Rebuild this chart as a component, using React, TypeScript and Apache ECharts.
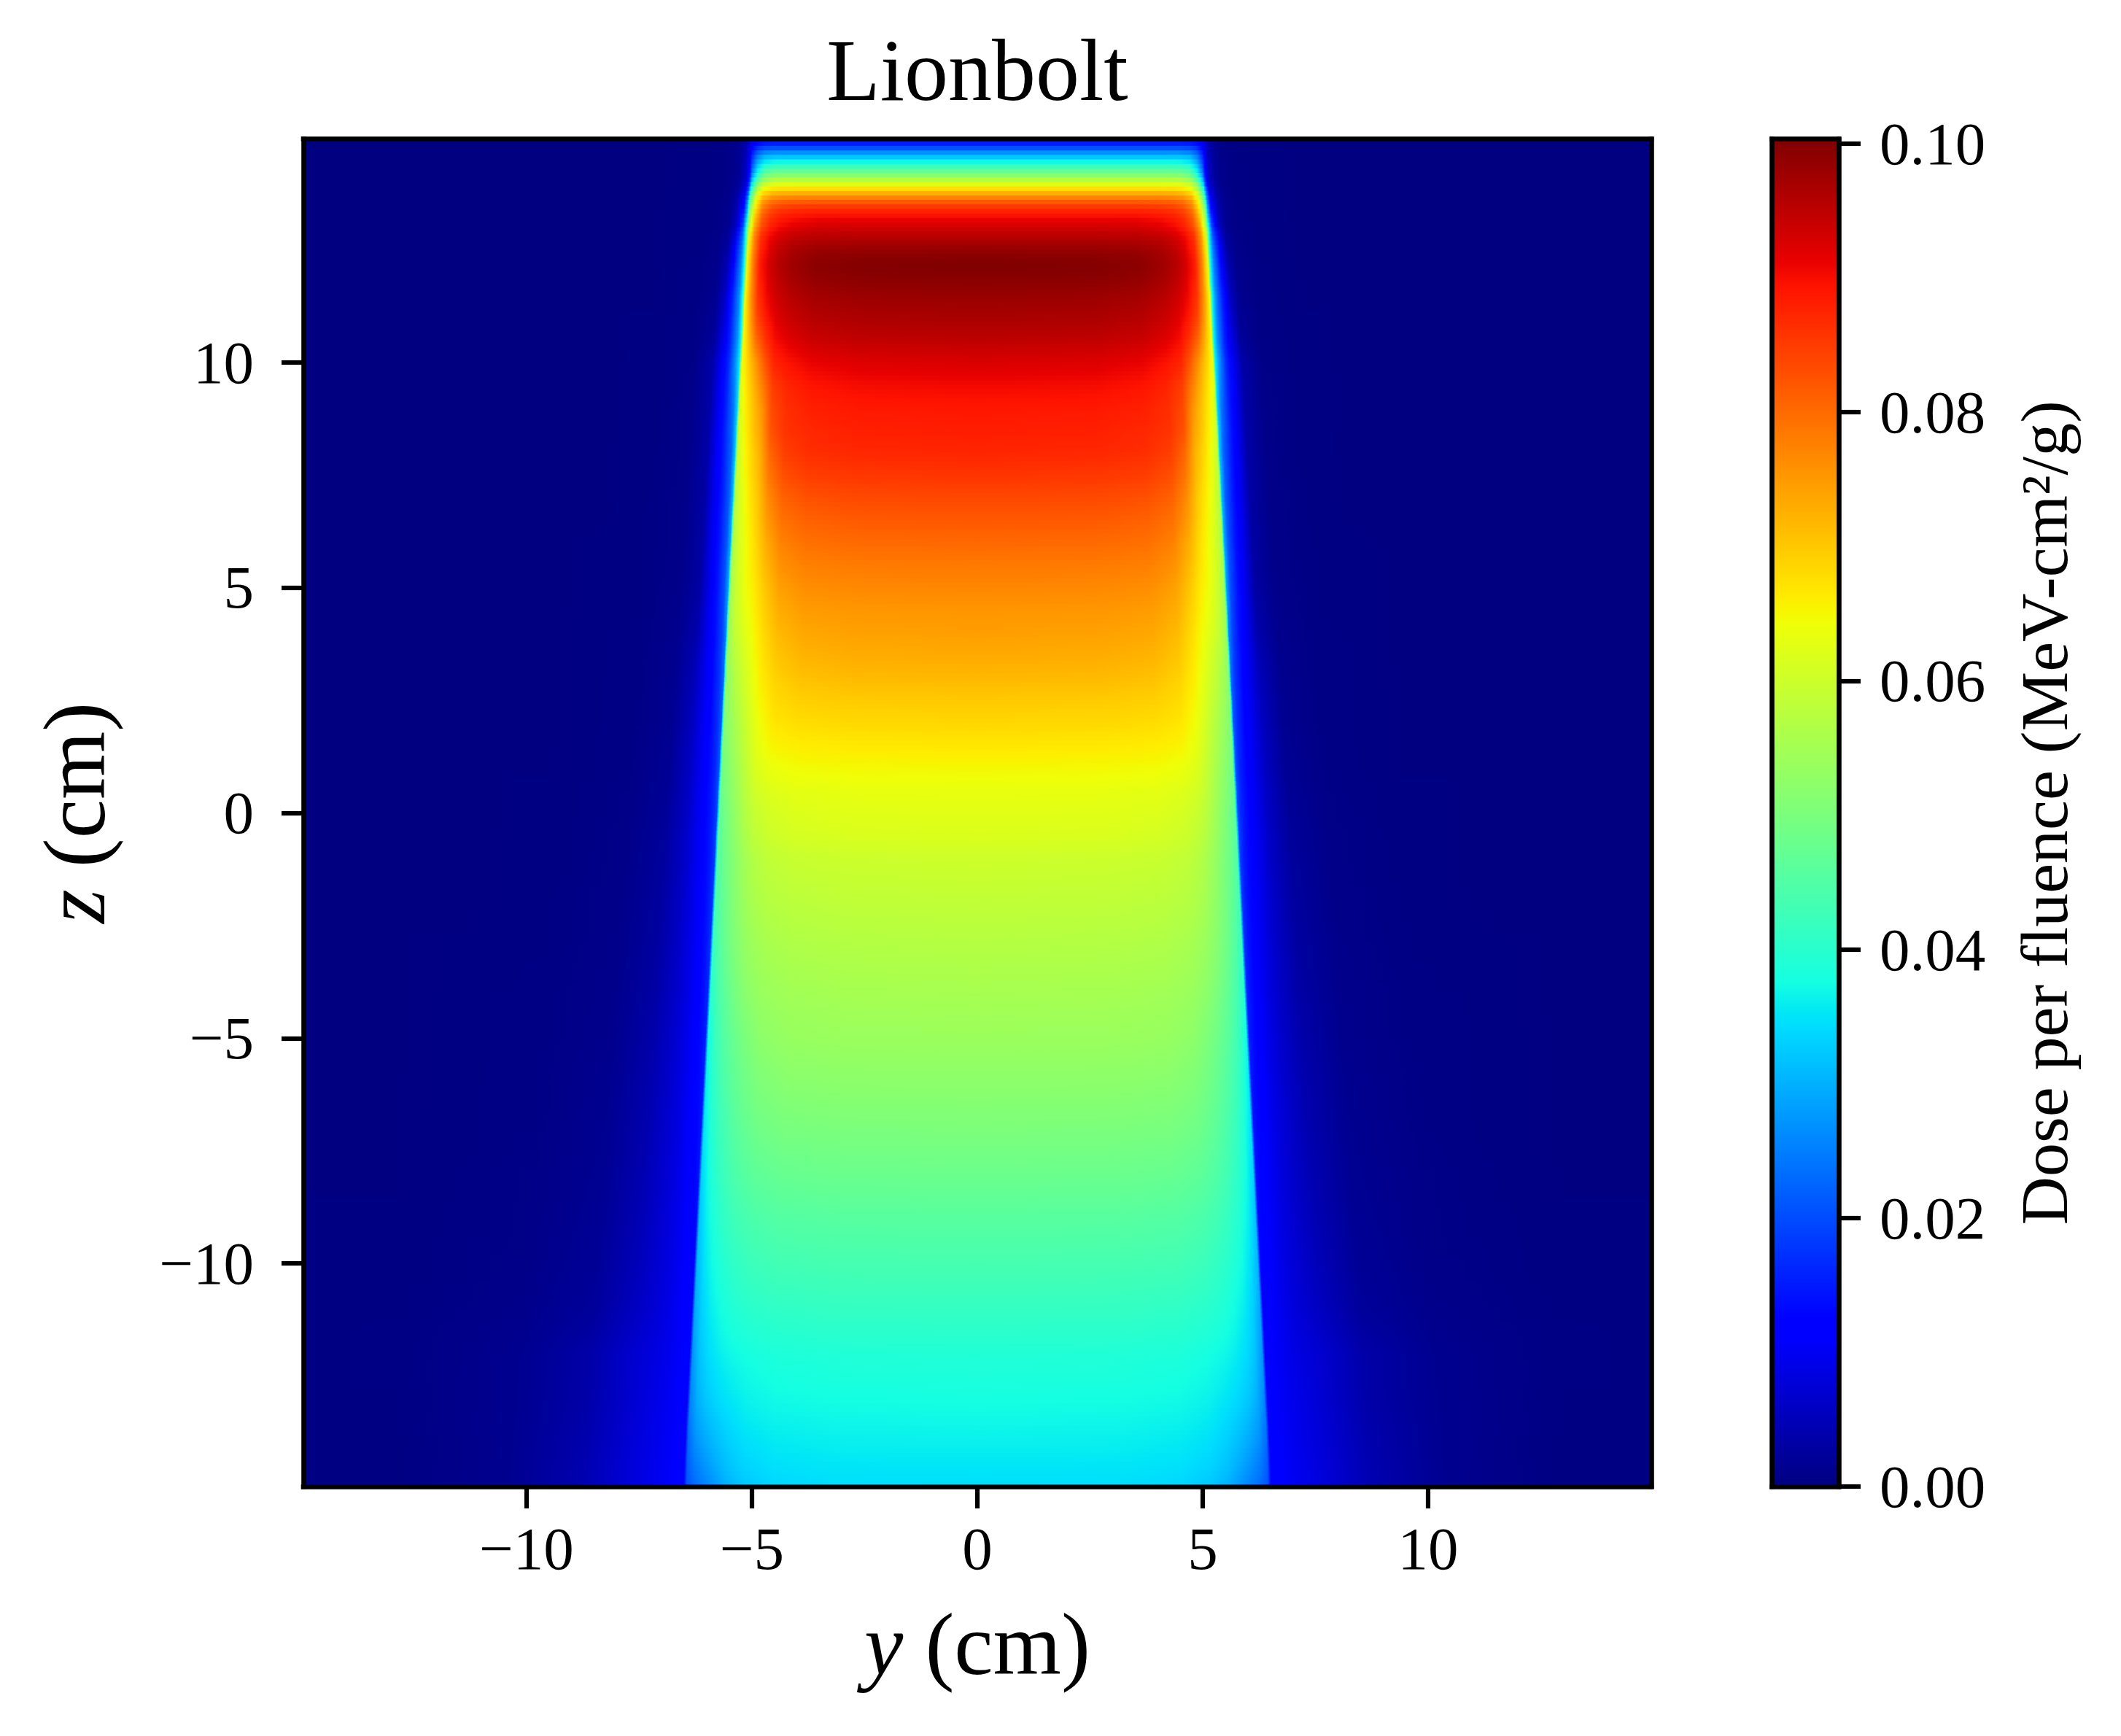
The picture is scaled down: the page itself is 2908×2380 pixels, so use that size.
import React, { useEffect, useRef } from "react";
import * as echarts from "echarts";

const titleText = "Lionbolt";
const xName = "{i|y} (cm)";
const yName = "{i|z} (cm)";
const barName = "Dose per fluence (MeV-cm²/g)";
const yTicks = [-10, -5, 0, 5, 10];
const zTicks = [-10, -5, 0, 5, 10];
const barTicks = [0, 0.02, 0.04, 0.06, 0.08, 0.1];
const limit = 14.95;
const doseMax = 0.10034;

// Row centres (z, cm)
const zRows = [14.9,14.8,14.7,14.6,14.5,14.4,14.3,14.2,14.1,14,13.9,13.8,13.7,13.6,13.5,13.4,13.3,13.2,13.1,13,12.8,12.6,12.4,12.2,12,11.75,11.5,11.25,11,10.5,10,9.5,9,8.5,8,7.5,7,6.5,6,5.5,5,4.5,4,3.5,3,2.5,2,1.5,1,0.5,0,-0.5,-1,-2,-3,-4,-5,-6,-7,-8,-9,-10,-11,-12,-13,-13.5,-14,-14.5,-14.9];
// Field half-width read at each row (cm)
const edgeRows = [5.02,5.02,5.02,5.02,5.02,5.02,5.02,5.02,5.02,5.03,5.04,5.05,5.06,5.07,5.07,5.08,5.08,5.09,5.09,5.1,5.11,5.12,5.13,5.14,5.15,5.16,5.18,5.19,5.2,5.22,5.25,5.28,5.3,5.33,5.35,5.38,5.4,5.43,5.45,5.48,5.5,5.53,5.55,5.58,5.6,5.63,5.65,5.68,5.7,5.73,5.75,5.78,5.8,5.85,5.9,5.95,6,6.05,6.1,6.15,6.2,6.25,6.3,6.35,6.4,6.43,6.45,6.47,6.48];
// Sample positions as a fraction of the half-width
const uCols = [0,0.5,0.7,0.8,0.86,0.9,0.94,0.97,0.995,1.005,1.02,1.05,1.08,1.12,1.2,1.35,1.6,2,3.2];
// Dose read at each row and column, 1e-4 MeV-cm²/g
const doseRows = [
[130,130,130,130,130,130,128,120,95,70,40,16,8,5,3,2,1,0,0],
[175,175,175,175,175,175,170,150,115,80,45,16,8,5,3,2,1,0,0],
[235,235,235,235,235,235,228,195,135,90,48,18,9,5,3,2,1,0,0],
[300,300,300,300,300,298,285,240,160,100,52,18,9,5,3,2,1,0,0],
[345,345,345,345,345,343,330,275,180,110,55,20,10,6,3,2,1,0,0],
[395,395,395,395,395,392,375,310,200,120,58,20,10,6,3,2,1,0,0],
[445,445,445,445,445,442,420,345,220,130,60,22,10,6,3,2,1,0,0],
[495,495,495,495,495,490,465,380,250,140,62,22,10,6,3,2,1,0,0],
[545,545,545,545,545,540,510,430,290,160,68,24,11,6,3,2,1,0,0],
[600,600,600,600,600,592,565,485,330,180,76,26,11,6,3,2,1,0,0],
[650,650,650,650,650,645,620,530,360,200,85,28,12,6,3,2,1,0,0],
[700,700,700,700,698,690,660,570,390,220,95,32,13,6,3,2,1,0,0],
[750,750,750,750,745,735,700,600,420,240,105,36,14,6,3,2,1,0,0],
[800,800,800,798,792,778,735,630,450,260,115,40,14,6,3,2,1,0,0],
[842,842,842,838,830,812,762,650,475,280,125,44,15,7,3,2,1,0,0],
[868,868,868,862,852,832,780,670,500,300,140,48,16,7,3,2,1,0,0],
[888,888,888,882,870,850,800,690,520,320,155,52,16,7,3,2,1,0,0],
[905,905,904,896,884,862,812,705,535,340,170,56,17,7,4,2,1,0,0],
[920,920,918,908,894,872,820,720,550,360,185,60,17,7,4,2,1,0,0],
[932,932,930,918,902,880,830,735,565,380,200,65,18,7,4,2,1,0,0],
[955,955,952,945,928,905,860,760,600,380,225,90,25,9,4,2,1,0,0],
[975,974,970,960,940,915,868,765,615,380,240,105,30,10,4,2,1,0,0],
[992,990,985,970,950,922,875,770,625,380,250,118,36,11,4,2,1,0,0],
[1003,999,992,975,955,928,880,772,630,380,255,128,42,12,5,2,1,0,0],
[1000,997,990,973,952,926,878,770,635,380,258,136,48,13,5,2,1,0,0],
[992,990,982,965,945,918,870,765,638,378,260,142,55,14,5,2,1,0,0],
[983,980,972,956,936,908,860,758,640,375,262,148,62,15,5,2,1,0,0],
[975,972,964,948,928,900,850,750,640,372,262,152,68,17,5,2,1,0,0],
[968,965,957,940,920,890,840,742,640,370,262,156,75,19,6,3,1,0,0],
[950,947,938,920,900,860,800,715,640,365,270,160,90,24,6,3,1,0,0],
[925,922,912,895,875,820,745,690,635,360,280,165,105,35,7,3,1,0,0],
[905,902,893,875,850,785,720,672,620,345,258,163,105,35,8,3,1,0,0],
[890,888,880,865,835,760,705,660,610,335,245,162,105,35,8,3,1,0,0],
[883,880,872,860,825,745,695,650,600,325,235,160,105,35,8,3,1,0,0],
[875,872,865,848,805,730,682,640,590,315,225,155,105,35,8,3,1,0,0],
[858,855,848,830,785,718,672,630,580,310,220,150,102,34,8,3,1,0,0],
[838,836,828,810,765,705,662,622,572,305,215,148,100,33,9,4,1,0,0],
[820,818,810,792,748,695,652,615,565,300,212,145,100,32,9,4,1,0,0],
[803,801,794,775,730,685,645,610,560,295,210,143,98,32,9,4,2,0,0],
[785,783,777,758,715,675,640,605,555,290,208,141,97,31,9,4,2,1,0],
[770,768,762,742,700,665,635,600,550,285,205,140,95,32,10,4,2,1,0],
[755,753,747,728,688,655,625,592,545,270,195,137,95,35,11,4,2,1,0],
[745,742,735,715,678,645,615,585,540,255,190,134,95,40,12,5,2,1,0],
[733,730,722,703,668,635,600,570,530,240,185,131,95,45,13,5,2,1,0],
[718,715,708,690,660,625,590,555,520,230,180,128,95,50,14,5,2,1,0],
[700,698,692,680,650,615,578,545,512,222,175,126,95,52,15,5,2,1,0],
[685,683,678,668,640,605,565,535,505,215,170,125,95,55,15,5,2,1,0],
[668,666,662,655,630,595,555,525,495,210,165,123,95,57,17,6,2,1,0],
[650,649,646,638,618,585,545,515,485,205,162,121,95,58,18,6,2,1,0],
[635,634,630,622,605,575,535,505,475,200,160,120,95,60,20,7,3,1,0],
[627,625,620,610,592,565,525,495,465,195,158,120,95,60,22,7,3,1,0],
[618,616,610,600,581,554,516,487,455,190,155,118,95,62,24,8,3,1,0],
[602,600,595,586,568,542,508,480,445,185,152,117,94,62,26,8,3,1,0],
[586,584,579,571,554,530,497,468,430,178,148,115,92,64,28,9,4,1,0],
[570,568,563,554,537,515,485,452,412,170,144,113,90,65,30,10,4,2,0],
[555,553,548,539,521,498,466,435,392,160,140,112,88,66,33,11,5,2,1],
[540,539,535,523,500,478,450,418,372,152,135,110,90,68,37,12,5,2,1],
[522,521,517,505,484,464,435,402,358,148,132,110,90,70,40,14,6,2,1],
[503,502,498,487,468,448,420,388,345,145,128,110,90,72,42,15,6,2,1],
[482,481,477,467,450,432,405,375,332,140,125,108,90,72,45,16,7,2,1],
[458,457,453,444,430,414,390,360,318,135,120,106,90,74,48,18,7,3,1],
[437,436,432,424,410,396,374,346,305,130,118,105,90,76,52,20,8,3,1],
[415,414,410,403,392,378,358,332,290,125,115,105,92,78,58,24,10,4,1],
[392,390,386,379,370,360,342,318,272,120,112,105,95,85,70,36,14,5,1],
[378,376,372,364,352,340,322,298,255,120,112,106,97,88,70,36,14,4,1],
[370,368,364,355,340,325,305,282,240,120,112,106,98,90,72,38,14,4,1],
[362,360,355,345,328,310,288,265,228,120,112,107,99,90,73,40,14,3,1],
[352,351,346,334,315,293,268,245,215,120,112,108,100,92,75,42,14,3,1],
[345,344,338,322,300,275,250,230,205,120,112,108,100,92,75,42,14,3,1],
];

const jetR: [number, number][] = [[0,0],[0.35,0],[0.66,1],[0.89,1],[1,0.5]];
const jetG: [number, number][] = [[0,0],[0.125,0],[0.375,1],[0.64,1],[0.91,0],[1,0]];
const jetB: [number, number][] = [[0,0.5],[0.11,1],[0.34,1],[0.65,0],[1,0]];
const jetBreaks = [0,0.11,0.125,0.34,0.35,0.375,0.64,0.65,0.66,0.89,0.91,1];

function channel(table: [number, number][], t: number) {
  for (let i = 1; i < table.length; i++) {
    if (t <= table[i][0]) {
      const [a, va] = table[i - 1];
      const [b, vb] = table[i];
      return va + ((t - a) / (b - a)) * (vb - va);
    }
  }
  return table[table.length - 1][1];
}
function jet(t: number) {
  const c = Math.max(0, Math.min(1, t));
  const to = (v: number) => Math.round(v * 255);
  return `rgb(${to(channel(jetR, c))},${to(channel(jetG, c))},${to(channel(jetB, c))})`;
}
const doseColor = (v: number) => jet((v * 1e-4) / doseMax);

// Horizontal shading across one strip, following the colormap between readings.
function stripFill(values: number[], w: number) {
  const half: { y: number; v: number }[] = [];
  for (let i = 0; i < uCols.length; i++) {
    half.push({ y: uCols[i] * w, v: values[i] });
    if (i + 1 < uCols.length) {
      half.push({
        y: ((uCols[i] + uCols[i + 1]) / 2) * w,
        v: (values[i] + values[i + 1]) / 2,
      });
    }
  }
  const all = [...half.slice(1).reverse().map((p) => ({ y: -p.y, v: p.v })), ...half];
  return new echarts.graphic.LinearGradient(
    0, 0, 1, 0,
    all.map((p) => ({
      offset: Math.max(0, Math.min(1, (p.y + limit) / (2 * limit))),
      color: doseColor(p.v),
    }))
  );
}

const fontFamily = "Liberation Serif";
const tickColor = "#000";
const spine = 6.6;
const stripHeight = 6;
const plotGrid = { left: 416, top: 190.7, width: 1848, height: 1847.3, outerBoundsMode: "none" };
const barGrid = { left: 2429.5, top: 190.7, width: 91.5, height: 1847.3, outerBoundsMode: "none" };

const lineOnly = (extra: any) => ({
  type: "value",
  z: 10,
  axisLine: { show: true, onZero: false, lineStyle: { color: tickColor, width: spine, cap: "square" } },
  axisTick: { show: false },
  axisLabel: { show: false },
  splitLine: { show: false },
  ...extra,
});
const ticked = (values: number[], margin: number, formatter: (v: number) => string, extra: any) => ({
  ...lineOnly(extra),
  axisTick: { show: true, length: 30, customValues: values, lineStyle: { color: tickColor, width: 6.2 } },
  axisLabel: {
    show: true,
    customValues: values,
    margin,
    formatter,
    color: "#000",
    fontFamily,
    fontSize: 83,
  },
});
const signed = (v: number) => (v < 0 ? "\u2212" + Math.abs(v) : String(v));
const nameFont = (size: number) => ({
  color: "#000",
  fontFamily,
  fontSize: size,
  rich: { i: { fontFamily, fontSize: size, fontStyle: "italic", color: "#000" } },
});

function buildOption() {
  const rowData = zRows.map((z, i) => [z, i + 1 < zRows.length ? zRows[i + 1] : -limit, i]);
  return {
    animation: false,
    backgroundColor: "#fff",
    title: {
      text: titleText,
      left: 1335,
      top: 31,
      textAlign: "center",
      textStyle: { color: "#000", fontFamily, fontSize: 120, fontWeight: "normal" },
    },
    grid: [plotGrid, barGrid],
    xAxis: [
      {
        ...ticked(yTicks, 43, signed, { gridIndex: 0, position: "bottom", min: -limit, max: limit }),
        name: xName,
        nameLocation: "middle",
        nameGap: 156,
        nameTextStyle: nameFont(120),
      },
      lineOnly({ gridIndex: 0, position: "top", min: -limit, max: limit }),
      lineOnly({ gridIndex: 1, position: "bottom", min: 0, max: 1 }),
      lineOnly({ gridIndex: 1, position: "top", min: 0, max: 1 }),
    ],
    yAxis: [
      {
        ...ticked(zTicks, 68, signed, { gridIndex: 0, position: "left", min: -limit, max: limit }),
        name: yName,
        nameLocation: "middle",
        nameGap: 254,
        nameRotate: 90,
        nameTextStyle: nameFont(120),
      },
      lineOnly({ gridIndex: 0, position: "right", min: -limit, max: limit }),
      lineOnly({ gridIndex: 1, position: "left", min: 0, max: doseMax }),
      {
        ...ticked(barTicks, 56, (v: number) => v.toFixed(2), { gridIndex: 1, position: "right", min: 0, max: doseMax }),
        name: barName,
        nameLocation: "middle",
        nameGap: 236,
        nameRotate: 90,
        nameTextStyle: nameFont(92),
      },
    ],
    series: [
      {
        type: "custom",
        name: "Dose",
        xAxisIndex: 0,
        yAxisIndex: 0,
        silent: true,
        clip: true,
        data: rowData,
        encode: { y: 0 },
        // Each row is one data item; it is shaded smoothly down to the next row's readings.
        renderItem: (_p: any, api: any) => {
          const i = api.value(2);
          const next = Math.min(i + 1, zRows.length - 1);
          const a = api.coord([-limit, api.value(0)]);
          const b = api.coord([limit, api.value(1)]);
          const h = b[1] - a[1];
          const n = Math.max(1, Math.round(h / stripHeight));
          const children: any[] = [];
          if (i === 0) {
            const top = api.coord([-limit, limit]);
            children.push({
              type: "rect",
              shape: { x: a[0], y: top[1], width: b[0] - a[0], height: a[1] - top[1] + 1 },
              style: { fill: stripFill(doseRows[0], edgeRows[0]) },
            });
          }
          for (let s = 0; s < n; s++) {
            const f = (s + 0.5) / n;
            const values = doseRows[i].map((v, k) => v + f * (doseRows[next][k] - v));
            const w = edgeRows[i] + f * (edgeRows[next] - edgeRows[i]);
            children.push({
              type: "rect",
              shape: { x: a[0], y: a[1] + (h * s) / n, width: b[0] - a[0], height: h / n + 1 },
              style: { fill: stripFill(values, w) },
            });
          }
          return { type: "group", children };
        },
      },
      {
        type: "custom",
        name: "Colorbar",
        xAxisIndex: 2,
        yAxisIndex: 3,
        silent: true,
        data: [[0, 1, 0, doseMax]],
        encode: { x: 0, y: 2 },
        renderItem: (_p: any, api: any) => {
          const a = api.coord([api.value(0), api.value(3)]);
          const b = api.coord([api.value(1), api.value(2)]);
          return {
            type: "rect",
            shape: { x: a[0], y: a[1], width: b[0] - a[0], height: b[1] - a[1] },
            style: {
              fill: new echarts.graphic.LinearGradient(
                0, 1, 0, 0,
                jetBreaks.map((t) => ({ offset: t, color: jet(t) }))
              ),
            },
          };
        },
      },
    ],
  };
}

export default function App() {
  const ref = useRef<HTMLDivElement>(null);
  useEffect(() => {
    document.body.style.margin = "0";
    const chart = echarts.init(ref.current!, undefined, { renderer: "svg" });
    chart.setOption(buildOption() as any);
    return () => chart.dispose();
  }, []);
  return <div ref={ref} style={{ width: 2908, height: 2380 }} />;
}
